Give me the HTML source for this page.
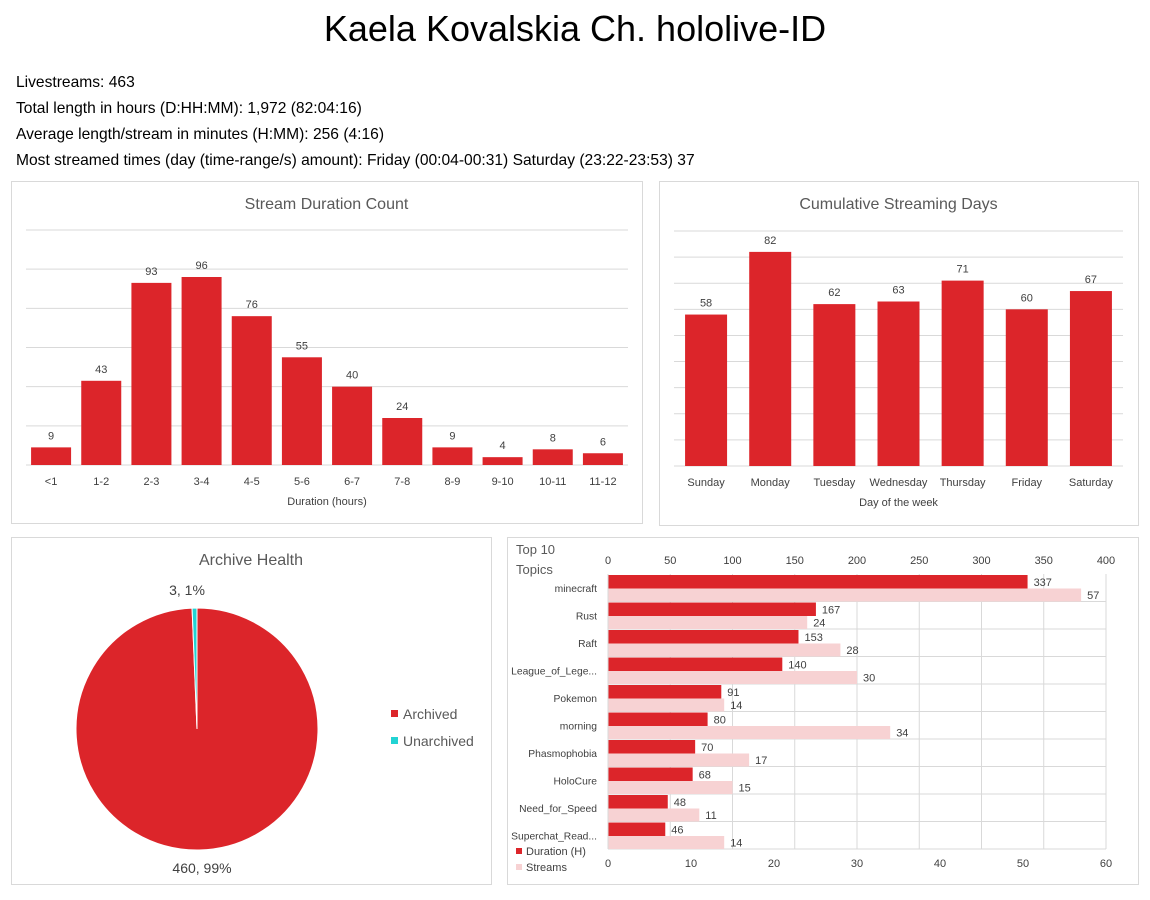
<!DOCTYPE html>
<html><head><meta charset="utf-8"><style>
body{margin:0;background:#fff;width:1150px;height:900px;overflow:hidden;font-family:"Liberation Sans",sans-serif}
svg text{font-family:"Liberation Sans",sans-serif}
.info{position:absolute;left:16px;font-size:15.6px;color:#000}
</style></head><body>
<div style="position:absolute;top:8px;width:1150px;text-align:center;font-size:36px">Kaela Kovalskia Ch. hololive-ID</div>
<div class="info" style="top:74px">Livestreams: 463</div>
<div class="info" style="top:100px">Total length in hours (D:HH:MM): 1,972 (82:04:16)</div>
<div class="info" style="top:126px">Average length/stream in minutes (H:MM): 256 (4:16)</div>
<div class="info" style="top:152px">Most streamed times (day (time-range/s) amount): Friday (00:04-00:31) Saturday (23:22-23:53) 37</div>
<svg id="svg" width="1150" height="900" style="position:absolute;left:0;top:0"></svg>
<script>
const durCats=["<1","1-2","2-3","3-4","4-5","5-6","6-7","7-8","8-9","9-10","10-11","11-12"];
const durVals=[9,43,93,96,76,55,40,24,9,4,8,6];
const dayCats=["Sunday","Monday","Tuesday","Wednesday","Thursday","Friday","Saturday"];
const dayVals=[58,82,62,63,71,60,67];
const archCats=["Archived","Unarchived"];
const archVals=[460,3];
const topicCats=["minecraft","Rust","Raft","League_of_Lege...","Pokemon","morning","Phasmophobia","HoloCure","Need_for_Speed","Superchat_Read..."];
const topicDur=[337,167,153,140,91,80,70,68,48,46];
const topicStreams=[57,24,28,30,14,34,17,15,11,14];
const durTicks=[0,50,100,150,200,250,300,350,400];
const streamTicks=[0,10,20,30,40,50,60];

const S=document.getElementById('svg');const NS='http://www.w3.org/2000/svg';
function mk(t,a,txt){const e=document.createElementNS(NS,t);for(const k in a)e.setAttribute(k,a[k]);if(txt!==undefined)e.textContent=txt;S.appendChild(e);return e;}
const RED='#dc252a',PINK='#f7d2d3',GRID='#d9d9d9',TXT='#404040',TITLE='#595959';

function box(x,y,w,h,name){const e=mk('rect',{x:x+.5,y:y+.5,width:w,height:h,fill:'#fff',stroke:'#d9d9d9'});

}

function vbar(o){
 box(o.bx,o.by,o.bw,o.bh,o.name+'-frame');
 let t=mk('text',{x:o.bx+o.bw/2,y:o.by+28,'text-anchor':'middle','font-size':16,fill:TITLE},o.title);
 
 
 const y=v=>o.base-(v/o.max)*(o.base-o.top);
 for(let g=0;g<=o.max;g+=o.step){const l=mk('line',{x1:o.x0,x2:o.x1,y1:y(g),y2:y(g),stroke:GRID});
  
  }
 const cw=(o.x1-o.x0)/o.cats.length;
 o.cats.forEach((c,i)=>{const cx=o.x0+cw*(i+.5),v=o.vals[i];
  const r=mk('rect',{x:cx-o.barw/2,y:y(v),width:o.barw,height:o.base-y(v),fill:RED});
  
  
  const l=mk('text',{x:cx,y:y(v)-8,'text-anchor':'middle','font-size':11,fill:TXT},v);
  
  
  const k=mk('text',{x:cx,y:o.base+20,'text-anchor':'middle','font-size':11,fill:TXT},c);
  
  });
 const a=mk('text',{x:(o.x0+o.x1)/2,y:o.base+40,'text-anchor':'middle','font-size':11,fill:TXT},o.xt);
 
 
}
vbar({bx:11,by:181,bw:631,bh:342,name:'duration-chart',title:'Stream Duration Count',x0:26,x1:628,top:230,base:465,max:120,step:20,cats:durCats,vals:durVals,barw:40,xt:'Duration (hours)'});
vbar({bx:659,by:181,bw:479,bh:344,name:'days-chart',title:'Cumulative Streaming Days',x0:674,x1:1123,top:231,base:466,max:90,step:10,cats:dayCats,vals:dayVals,barw:42,xt:'Day of the week'});

// pie
box(11,537,480,347,'pie-frame');
let pt=mk('text',{x:251,y:565,'text-anchor':'middle','font-size':16,fill:TITLE},'Archive Health');


const cx=197,cy=729,R=121,tot=archVals.reduce((a,b)=>a+b,0);const cols=[RED,'#22d3d3'];let ang=0;
archVals.forEach((v,i)=>{const a0=ang,a1=ang+v/tot*2*Math.PI;ang=a1;
 const p=(a)=>[cx+R*Math.sin(a),cy-R*Math.cos(a)];const [x0,y0]=p(a0),[x1,y1]=p(a1);
 const e=mk('path',{d:`M${cx},${cy}L${x0},${y0}A${R},${R} 0 ${a1-a0>Math.PI?1:0} 1 ${x1},${y1}Z`,fill:cols[i],stroke:'#fff','stroke-width':1});
 
 
 const lg=mk('rect',{x:391,y:710+i*27,width:7,height:7,fill:cols[i]});
 
 
 const lt=mk('text',{x:403,y:719+i*27,'font-size':14,fill:TITLE},archCats[i]);
 
 });
let l1=mk('text',{x:187,y:595,'text-anchor':'middle','font-size':14,fill:TXT},archVals[1]+', '+Math.round(archVals[1]/tot*100)+'%');


let l2=mk('text',{x:202,y:873,'text-anchor':'middle','font-size':14,fill:TXT},archVals[0]+', '+Math.round(archVals[0]/tot*100)+'%');



// topics
box(507,537,631,347,'topics-frame');
const tx0=608,tx1=1106,ty0=574,ty1=849;
const xd=v=>tx0+v/400*(tx1-tx0),xs=v=>tx0+v/60*(tx1-tx0);
let t1=mk('text',{x:516,y:554,'font-size':13,fill:TITLE},'Top 10');


let t2=mk('text',{x:516,y:574,'font-size':13,fill:TITLE},'Topics');


durTicks.forEach(v=>{const g=mk('line',{x1:xd(v),x2:xd(v),y1:ty0,y2:ty1,stroke:GRID});
 
 
 const k=mk('text',{x:xd(v),y:564,'text-anchor':'middle','font-size':11,fill:TXT},v);
 
 });
streamTicks.forEach(v=>{const k=mk('text',{x:xs(v),y:867,'text-anchor':'middle','font-size':11,fill:TXT},v);
 
 });
const rh=(ty1-ty0)/topicCats.length;
topicCats.forEach((c,i)=>{const y0=ty0+i*rh;
 const hl=mk('line',{x1:tx0,x2:tx1,y1:y0+rh,y2:y0+rh,stroke:GRID});
 
 
 const r1=mk('rect',{x:tx0,y:y0+1,width:xd(topicDur[i])-tx0,height:13.5,fill:RED});
 
 
 const r2=mk('rect',{x:tx0,y:y0+14.5,width:xs(topicStreams[i])-tx0,height:13,fill:PINK});
 
 
 const a=mk('text',{x:xd(topicDur[i])+6,y:y0+12,'font-size':11,fill:TXT},topicDur[i]);
 
 
 const b=mk('text',{x:xs(topicStreams[i])+6,y:y0+25,'font-size':11,fill:TXT},topicStreams[i]);
 
 
 const k=mk('text',{x:597,y:y0+18,'text-anchor':'end','font-size':10.3,fill:TXT},c);
 
 });
const ax=mk('line',{x1:tx0,x2:tx0,y1:ty0,y2:ty1,stroke:GRID});


[['Duration (H)',RED,855],['Streams',PINK,871]].forEach(([n,c,y])=>{
 const r=mk('rect',{x:516,y:y-7,width:6,height:6,fill:c});
 
 
 const t=mk('text',{x:526,y:y,'font-size':11,fill:TXT},n);
 
 });
</script>
</body></html>
